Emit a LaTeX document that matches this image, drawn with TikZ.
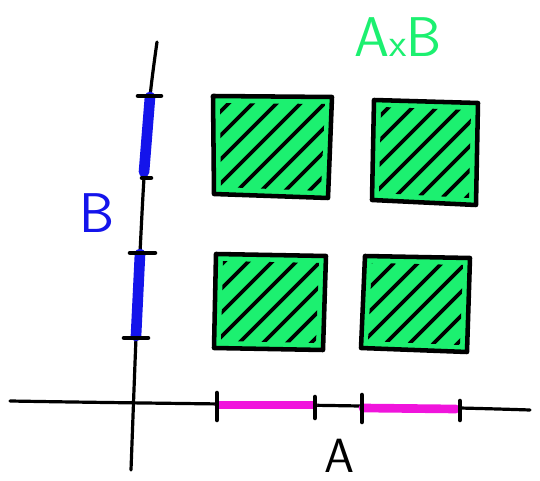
\documentclass[tikz,border=0pt]{standalone}
\usetikzlibrary{calc}
\definecolor{sqgreen}{RGB}{28,240,112}
\definecolor{segblue}{RGB}{20,20,235}
\definecolor{segmag}{RGB}{240,20,220}
\tikzset{
  axisline/.style={line width=2.4pt,line cap=round},
  tickmark/.style={line width=3.4pt,line cap=round},
  bseg/.style={segblue,line width=8pt,line cap=round},
  mseg/.style={segmag,line width=6.5pt,line cap=round},
  hatchline/.style={line width=2.8pt,line cap=round},
  sqborder/.style={line width=3.4pt,line join=round},
  lbl/.style={font=\sffamily\fontsize{42}{42}\selectfont,inner sep=0pt}
}
\newcommand\hatchsq[4]{%
  \fill[sqgreen] #1 -- #2 -- #3 -- #4 -- cycle;
  \begin{scope}
    \clip ($#1+(7,7)$) -- ($#2+(-7,7)$) -- ($#3+(-7,-7)$) -- ($#4+(7,-7)$) -- cycle;
    \foreach \k in {0,...,10}{
      \draw[hatchline] ($#4+(-110+\k*24,10)$) -- ++(160,-160);
    }
  \end{scope}
  \draw[sqborder] #1 -- #2 -- #3 -- #4 -- cycle;
}
\begin{document}
\begin{tikzpicture}[x=0.75pt,y=-0.75pt]
\useasboundingbox (0,0) rectangle (540,481);
% axes
\coordinate (hL) at (10,401);
\coordinate (hR) at (530,410);
\draw[axisline] (hL) .. controls (180,404) and (380,405) .. (hR);
\coordinate (vT) at (157,42);
\coordinate (vB) at (131,470);
\draw[axisline] plot[smooth] coordinates {(vT) (150,97) (144,178) (140,253) (136,338) (vB)};
% blue segments on B axis
\coordinate (b1) at (150,97); \coordinate (b2) at (144,172);
\coordinate (b3) at (140,254); \coordinate (b4) at (136,336);
\draw[bseg] (b1) -- (b2);
\draw[bseg] (b3) -- (b4);
\draw[tickmark] (138,96) -- (161,96);
\draw[tickmark] (142,178) -- (151,178);
\draw[tickmark] (130,253) -- (155,253);
\draw[tickmark] (124,338) -- (148,338);
% magenta segments on A axis
\coordinate (a1) at (219,405); \coordinate (a2) at (313,405);
\coordinate (a3) at (363,408); \coordinate (a4) at (456,409);
\draw[mseg] (a1) -- (a2);
\draw[mseg] (a3) -- (a4);
\draw[tickmark] (217,393) -- (217,420);
\draw[tickmark] (315,397) -- (315,418);
\draw[tickmark] (362,395) -- (362,422);
\draw[tickmark] (460,401) -- (460,420);
% squares
\hatchsq{(213,96)}{(332,97)}{(328,198)}{(214,194)}
\hatchsq{(374,100)}{(478,103)}{(476,205)}{(372,200)}
\hatchsq{(216,254)}{(326,256)}{(323,350)}{(214,348)}
\hatchsq{(365,256)}{(470,258)}{(467,352)}{(361,348)}
% labels
\node[lbl,text=segblue] (labB) at (97,213) {B};
\node[lbl,text=black,font=\sffamily\fontsize{36}{36}\selectfont] (labA) at (339,456) {A};
\node[lbl,text=sqgreen] (labAB) at (398,37) {A{\fontsize{30}{30}\selectfont x}B};
\end{tikzpicture}
\end{document}
